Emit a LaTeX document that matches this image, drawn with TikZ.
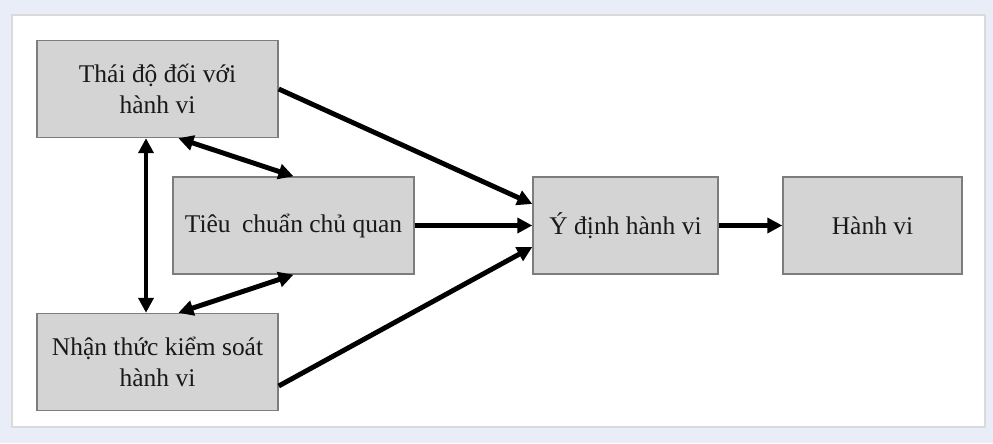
\documentclass[tikz,border=0pt]{standalone}
\usepackage{fontspec}
\setmainfont{Liberation Serif}
\usetikzlibrary{arrows.meta}
\definecolor{pagebg}{RGB}{232,237,247}
\definecolor{boxfill}{RGB}{212,212,212}
\definecolor{boxline}{RGB}{125,125,125}
\begin{document}
\begin{tikzpicture}[
    box/.style={draw=boxline, fill=boxfill, line width=0.8pt, minimum height=1.94cm,
        align=center, font=\fontsize{14.5}{17.5}\selectfont, text=black!90, inner sep=0pt},
    link/.style={line width=2.8pt, -{Triangle[length=3mm,width=3mm]}},
    both/.style={line width=2.8pt, {Triangle[length=3mm,width=3mm]}-{Triangle[length=3mm,width=3mm]}}
]

        % page and panel
        \fill[pagebg] (0,0) rectangle (19.86,-8.86);
        \draw[fill=white, draw={rgb,255:red,218;green,218;blue,218}, line width=0.6pt] (0.24,-0.3) rectangle (19.7,-8.54);

        % factors
        \node[box, minimum width=4.82cm] (att) at (3.15,-1.78) {Thái độ đối với\\hành vi};
        \node[box, minimum width=4.82cm] (sub) at (5.87,-4.51) {Tiêu\hspace{0.2em} chuẩn chủ quan};
        \node[box, minimum width=4.82cm] (pbc) at (3.15,-7.24) {Nhận thức kiểm soát\\hành vi};

        % intention and behaviour
        \node[box, minimum width=3.70cm] (int) at (12.51,-4.51) {Ý định hành vi};
        \node[box, minimum width=3.58cm] (beh) at (17.45,-4.51) {Hành vi};

        % correlations
        \draw[both] ([xshift=-0.23cm]att.south) -- ([xshift=-0.23cm]pbc.north);
        \draw[both] (att.-67) -- (sub.north);
        \draw[both] (pbc.67) -- (sub.south);

        % paths to intention
        \draw[link] (att.east) -- (int.167);
        \draw[link] (sub.east) -- (int.west);
        \draw[link] ([yshift=-0.48cm]pbc.east) -- (int.193);
        \draw[link] (int.east) -- (beh.west);
\end{tikzpicture}
\end{document}
